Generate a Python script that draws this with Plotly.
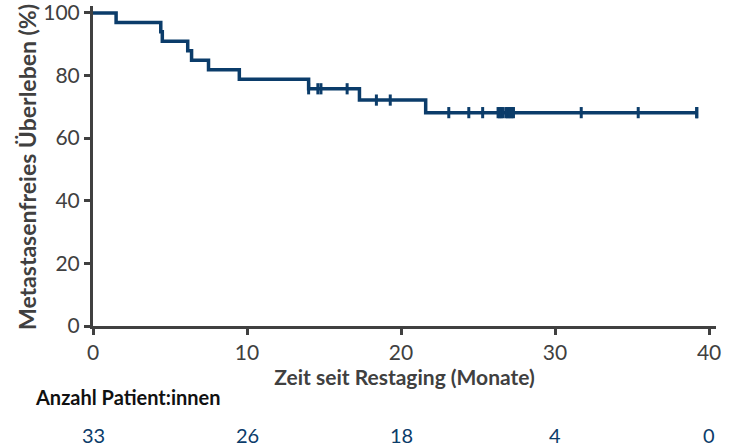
import plotly.graph_objects as go

# Kaplan-Meier input: event times and censoring times (months since restaging)
n_total = 33
event_times = [1.5, 4.4, 4.5, 6.15, 6.4, 7.5, 9.5, 14.0, 17.3, 21.6]
censor_times = [14.0, 14.6, 14.8, 16.5, 18.4, 19.3,
                23.1, 24.4, 25.3,
                26.3, 26.4, 26.5, 26.6, 26.8, 26.9, 27.0, 27.1, 27.2, 27.3,
                31.7, 35.4, 39.2, 39.2]
risk_times = [0, 10, 20, 30, 40]
risk_counts = [33, 26, 18, 4, 0]
y_ticks = [0, 20, 40, 60, 80, 100]

NAVY = "#0b3c6a"
GREY = "#404040"
FONT = "Lato"

# Kaplan-Meier step function
times = sorted(set(event_times + censor_times))
at_risk = n_total
surv = 100.0
step_x, step_y = [0.0], [100.0]
surv_at = {}
for t in times:
    d = event_times.count(t)
    c = censor_times.count(t)
    if d:
        surv *= (at_risk - d) / at_risk
        step_x.append(t)
        step_y.append(surv)
    surv_at[t] = surv
    at_risk -= d + c
step_x.append(max(times))
step_y.append(surv)

cx = censor_times
cy = [surv_at[t] for t in censor_times]

W, H = 737, 448
L, R, T, B = 93, 21, 6, 122
plot_w = W - L - R
plot_h = H - T - B


def px_x(p):
    return (p - L) / plot_w


def px_y(p):
    return (H - B - p) / plot_h


fig = go.Figure()
fig.add_trace(go.Scatter(
    x=step_x, y=step_y, mode="lines", line=dict(color=NAVY, width=3.5, shape="hv"),
    hoverinfo="skip", showlegend=False))
fig.add_trace(go.Scatter(
    x=cx, y=cy, mode="markers",
    marker=dict(symbol="line-ns-open", size=8, color=NAVY,
                line=dict(color=NAVY, width=3)),
    showlegend=False))

# number-at-risk row
for t, nr in zip(risk_times, risk_counts):
    fig.add_annotation(x=t, y=px_y(435), xref="x", yref="paper",
                       text=str(nr), showarrow=False, yanchor="middle",
                       font=dict(family=FONT, size=20, color=NAVY))
fig.add_annotation(x=px_x(33), y=px_y(397), xref="paper", yref="paper",
                   xanchor="left", yanchor="middle",
                   text="<b>Anzahl Patient:innen</b>", showarrow=False,
                   font=dict(family=FONT, size=20, color="#111111"))
# y-axis title
fig.add_annotation(x=px_x(27), y=px_y(167), xref="paper", yref="paper",
                   xanchor="center", yanchor="middle", textangle=-90,
                   text="<b>Metastasenfreies Überleben (%)</b>", showarrow=False,
                   font=dict(family=FONT, size=23, color=GREY))

fig.update_layout(
    width=W, height=H,
    margin=dict(l=L, r=R, t=T, b=B, autoexpand=False),
    plot_bgcolor="white", paper_bgcolor="white",
    font=dict(family=FONT, color=GREY, size=21),
    xaxis=dict(range=[0, 40.45], tickvals=risk_times, ticks="outside", ticklen=6,
               tickwidth=3, tickcolor=GREY, showline=True, linewidth=3, linecolor=GREY,
               showgrid=False, zeroline=False, tickfont=dict(size=21, color=GREY),
               ticklabeloverflow="allow", automargin=False,
               title=dict(text="<b>Zeit seit Restaging (Monate)</b>", standoff=4,
                          font=dict(size=21, color=GREY))),
    yaxis=dict(range=[0, 102.2], tickvals=y_ticks, ticks="outside", ticklen=6,
               tickwidth=3, tickcolor=GREY, showline=True, linewidth=3, linecolor=GREY,
               showgrid=False, zeroline=False, tickfont=dict(size=21, color=GREY),
               ticklabeloverflow="allow", automargin=False),
)

fig.write_html("out.html")
